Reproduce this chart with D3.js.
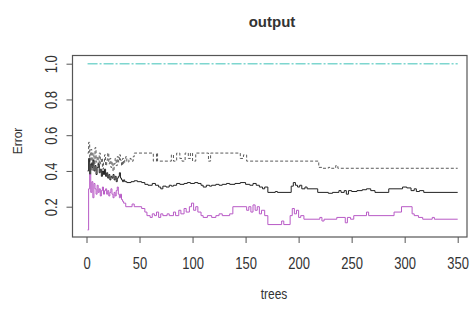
<!DOCTYPE html>
<html>
<head>
<meta charset="utf-8">
<script src="https://cdn.jsdelivr.net/npm/d3@7"></script>
<style>
  body { margin: 0; background: #fff; }
  text { font-family: "Liberation Sans", Arial, sans-serif; fill: #333; }
</style>
</head>
<body>
<div id="chart"></div>
<script>
// error curves of the forest, kept as change points: [tree, error]
var oobTree = [1,2,3,4,5,6,7,8,9,10,11,12,13,14,15,16,17,18,19,20,21,22,23,24,25,26,27,28,29,30,31,32,33,34,35,36,38,42,45,48,52,55,58,62,65,68,70,72,75,78,80,82,85,88,92,95,98,102,105,108,110,113,116,118,122,125,128,132,135,140,145,150,154,157,160,163,166,168,171,178,180,193,195,197,199,201,203,206,208,218,228,232,238,240,243,245,247,250,255,260,264,268,272,285,298,302,306,309,311,314,318,350];
var oobErr  = [0.40,0.47,0.38,0.44,0.42,0.46,0.40,0.43,0.38,0.42,0.44,0.39,0.41,0.37,0.40,0.38,0.41,0.37,0.39,0.36,0.38,0.35,0.37,0.36,0.38,0.35,0.37,0.34,0.36,0.37,0.39,0.36,0.35,0.34,0.35,0.34,0.335,0.34,0.345,0.34,0.335,0.325,0.32,0.33,0.32,0.31,0.30,0.315,0.31,0.32,0.315,0.32,0.33,0.325,0.33,0.335,0.33,0.335,0.33,0.32,0.31,0.32,0.315,0.32,0.325,0.32,0.325,0.33,0.325,0.33,0.335,0.325,0.32,0.33,0.32,0.31,0.30,0.31,0.28,0.285,0.28,0.315,0.335,0.32,0.31,0.32,0.30,0.31,0.30,0.28,0.275,0.28,0.29,0.28,0.29,0.27,0.29,0.285,0.29,0.295,0.30,0.29,0.28,0.30,0.31,0.305,0.29,0.30,0.285,0.29,0.28,0.28];

var c1Tree = [1,2,3,4,5,6,7,8,9,10,11,12,13,14,15,16,17,18,19,20,21,22,23,24,25,26,27,28,29,30,31,32,33,34,35,37,43,45,52,55,57,60,62,64,66,68,70,72,76,78,82,84,87,89,92,94,97,99,101,103,105,108,110,114,118,122,125,128,135,138,151,153,155,157,159,161,163,165,168,171,184,186,192,194,196,198,200,202,205,220,222,224,236,244,246,249,252,264,266,290,297,307,309,313,317,326,328,350];
var c1Err  = [0.07,0.30,0.38,0.28,0.34,0.25,0.33,0.30,0.27,0.32,0.28,0.30,0.26,0.29,0.31,0.27,0.29,0.30,0.27,0.29,0.26,0.28,0.30,0.27,0.25,0.28,0.26,0.29,0.31,0.27,0.25,0.27,0.24,0.23,0.22,0.20,0.215,0.20,0.19,0.17,0.15,0.14,0.16,0.15,0.17,0.14,0.16,0.15,0.16,0.15,0.17,0.15,0.18,0.16,0.19,0.17,0.20,0.22,0.18,0.20,0.17,0.15,0.14,0.15,0.14,0.15,0.16,0.15,0.16,0.20,0.18,0.20,0.17,0.21,0.18,0.20,0.16,0.18,0.15,0.10,0.12,0.10,0.15,0.19,0.16,0.18,0.14,0.15,0.13,0.14,0.12,0.13,0.14,0.11,0.14,0.13,0.15,0.17,0.15,0.17,0.20,0.16,0.15,0.14,0.13,0.14,0.13,0.13];

var c2Tree = [1,2,3,4,5,6,7,8,9,10,11,12,13,14,15,16,17,18,19,20,21,22,23,24,25,26,27,28,29,30,31,32,33,34,35,36,37,38,40,42,44,45,63,66,67,80,82,85,88,90,93,96,98,100,103,115,117,145,148,151,219,222,228,231,235,237,350];
var c2Err  = [0.50,0.56,0.45,0.52,0.40,0.50,0.44,0.53,0.45,0.48,0.42,0.50,0.44,0.47,0.41,0.45,0.49,0.43,0.46,0.50,0.44,0.47,0.42,0.45,0.40,0.44,0.47,0.43,0.48,0.45,0.49,0.46,0.43,0.47,0.44,0.46,0.48,0.45,0.47,0.455,0.48,0.50,0.455,0.50,0.455,0.49,0.455,0.50,0.47,0.455,0.50,0.47,0.50,0.455,0.50,0.455,0.50,0.47,0.49,0.455,0.42,0.415,0.42,0.415,0.43,0.415,0.415];

var c3Tree = [1,350];
var c3Err  = [1.0,1.0];

var xTicks = [0,50,100,150,200,250,300,350];
var yTicks = [0.2,0.4,0.6,0.8,1.0];

var W = 473, H = 312;
var box = {left: 72.5, right: 467, top: 55.5, bottom: 237};

var svg = d3.select("#chart").append("svg")
  .attr("width", W).attr("height", H);

var x = d3.scaleLinear().domain([0, 350]).range([86.5, 457.7]);
var y = d3.scaleLinear().domain([0.2, 1.0]).range([206.7, 63.7]);

var series = [
  {t: c3Tree, e: c3Err, color: "#7ed6cf", dash: "10,2,2,2", w: 1.4},
  {t: c2Tree, e: c2Err, color: "#5a5a5a", dash: "3,2", w: 1},
  {t: oobTree, e: oobErr, color: "#222", dash: null, w: 1},
  {t: c1Tree, e: c1Err, color: "#b85ac6", dash: null, w: 1}
];

var line = d3.line()
  .x(function(d) { return x(d[0]); })
  .y(function(d) { return y(d[1]); })
  .curve(d3.curveStepAfter);

series.forEach(function(s) {
  var pts = s.t.map(function(t, i) { return [t, s.e[i]]; });
  svg.append("path")
    .attr("d", line(pts))
    .attr("fill", "none")
    .attr("stroke", s.color)
    .attr("stroke-width", s.w)
    .attr("stroke-dasharray", s.dash);
});

// frame
svg.append("rect")
  .attr("x", box.left).attr("y", box.top)
  .attr("width", box.right - box.left).attr("height", box.bottom - box.top)
  .attr("fill", "none").attr("stroke", "#555").attr("stroke-width", 1.2);

// x axis
var gx = svg.append("g").attr("transform", "translate(0," + box.bottom + ")")
  .call(d3.axisBottom(x).tickValues(xTicks).tickSize(6).tickFormat(d3.format("d")));
gx.select(".domain").remove();
gx.selectAll("line").attr("stroke", "#555");
gx.selectAll("text")
  .attr("font-size", 13).attr("fill", "#444")
  .attr("y", null).attr("dy", null)
  .attr("dominant-baseline", "central")
  .attr("transform", "translate(0,26) scale(1,1.3)");

// y axis
var gy = svg.append("g").attr("transform", "translate(" + box.left + ",0)")
  .call(d3.axisLeft(y).tickValues(yTicks).tickSize(6).tickFormat(d3.format(".1f")));
gy.select(".domain").remove();
gy.selectAll("line").attr("stroke", "#555");
gy.selectAll("text")
  .attr("font-size", 13).attr("fill", "#444")
  .attr("text-anchor", "middle")
  .attr("x", null).attr("dy", null)
  .attr("transform", "translate(-22,0) rotate(-90) scale(1,1.3)")
  .attr("dominant-baseline", "central");

svg.append("text")
  .attr("x", 272).attr("y", 27)
  .attr("text-anchor", "middle")
  .attr("font-size", 15).attr("font-weight", "bold").attr("fill", "#222")
  .text("output");

svg.append("text")
  .attr("transform", "translate(274,299) scale(1,1.15)")
  .attr("text-anchor", "middle")
  .attr("font-size", 12).attr("fill", "#444")
  .text("trees");

svg.append("text")
  .attr("transform", "translate(22,141) rotate(-90)")
  .attr("text-anchor", "middle")
  .attr("font-size", 12).attr("fill", "#444")
  .text("Error");
</script>
</body>
</html>
